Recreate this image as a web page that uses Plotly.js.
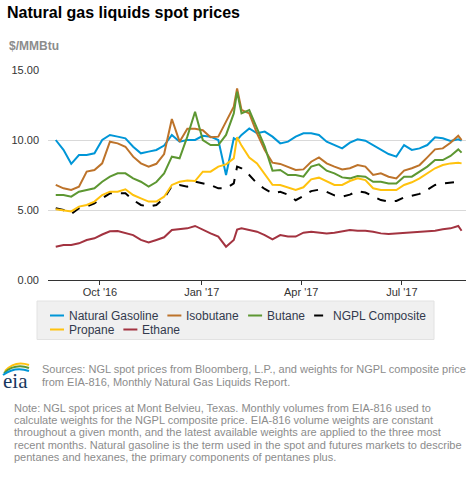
<!DOCTYPE html>
<html>
<head>
<meta charset="utf-8">
<script src="https://cdn.plot.ly/plotly-3.0.1.min.js"></script>
<style>
html,body{margin:0;padding:0;background:#fff;}
#chart{width:469px;height:482px;}
</style>
</head>
<body>
<div id="chart"></div>
<script>
// Weekly readings (plus the Feb 2017 spike and last observation)
const dates = [
 '2016-08-22','2016-08-29','2016-09-05','2016-09-12','2016-09-19','2016-09-26',
 '2016-10-03','2016-10-10','2016-10-17','2016-10-24','2016-10-31','2016-11-07',
 '2016-11-14','2016-11-21','2016-11-28','2016-12-05','2016-12-12','2016-12-19',
 '2016-12-26','2017-01-02','2017-01-09','2017-01-16','2017-01-23','2017-01-30',
 '2017-02-02','2017-02-06','2017-02-13','2017-02-20','2017-02-27','2017-03-06',
 '2017-03-13','2017-03-20','2017-03-27','2017-04-03','2017-04-10','2017-04-17',
 '2017-04-24','2017-05-01','2017-05-08','2017-05-15','2017-05-22','2017-05-29',
 '2017-06-05','2017-06-12','2017-06-19','2017-06-26','2017-07-03','2017-07-10',
 '2017-07-17','2017-07-24','2017-07-31','2017-08-07','2017-08-14','2017-08-21',
 '2017-08-24'
];
const naturalGasoline = [
 10.0,9.3,8.3,8.93,8.93,9.05,10.0,10.36,10.24,10.12,9.52,9.05,
 9.17,9.29,9.6,10.36,9.88,10.0,10.0,10.3,10.24,10.0,7.5,10.12,
 10.0,10.36,10.83,10.48,10.6,10.24,9.76,9.88,10.24,10.48,10.48,10.36,
 9.88,9.64,9.4,9.81,10.05,9.95,9.64,9.33,9.0,8.81,9.64,9.29,
 9.4,9.64,10.19,10.12,9.93,10.05,9.95
];
const isobutane = [
 6.79,6.55,6.43,6.67,7.74,7.86,8.33,9.88,9.76,9.52,8.81,8.33,
 8.1,8.3,9.0,11.5,9.88,10.8,10.8,10.7,10.2,10.24,11.31,12.38,
 13.69,12.14,11.9,10.48,9.29,8.38,8.29,8.1,7.86,7.9,8.45,8.76,
 8.33,8.1,7.9,7.98,8.21,8.1,7.5,7.62,7.38,7.26,7.81,7.98,
 8.21,8.76,9.33,9.4,9.8,10.3,10.0
];
const butane = [
 6.07,6.07,5.95,6.31,6.43,6.55,7.02,7.38,7.62,7.62,7.26,7.02,
 6.67,7.0,7.62,8.81,8.69,10.24,12.02,10.0,9.64,9.64,10.36,11.9,
 13.45,11.9,12.14,10.83,9.52,7.81,7.86,7.5,7.5,7.38,8.1,8.26,
 7.81,7.62,7.33,7.26,7.43,7.38,7.02,7.02,6.9,6.9,7.38,7.38,
 7.74,8.1,8.57,8.57,8.86,9.33,9.1
];
const ngplComposite = [
 5.12,5.0,4.71,5.12,5.24,5.48,5.83,6.19,6.19,6.19,5.71,5.36,
 5.24,5.36,5.83,6.71,6.79,6.67,7.02,6.9,6.79,6.55,6.55,6.9,
 8.1,7.98,7.5,6.9,6.5,6.2,6.3,6.1,5.7,6.0,6.35,6.45,
 6.3,6.05,5.95,6.1,6.35,6.25,5.95,5.71,5.6,5.65,5.9,6.0,
 6.15,6.45,6.79,6.9,6.98,7.02,7.0
];
const propane = [
 5.05,5.0,4.9,5.24,5.36,5.6,6.07,6.31,6.31,6.48,6.07,5.83,
 5.6,5.6,5.95,6.79,7.02,7.1,7.07,7.74,7.74,8.1,8.26,8.69,
 10.2,9.6,8.74,8.33,7.6,6.8,6.79,6.62,6.43,6.62,7.19,7.31,
 7.02,6.79,6.79,7.07,7.26,7.14,6.55,6.43,6.43,6.43,6.79,6.98,
 7.26,7.62,7.98,8.21,8.33,8.38,8.33
];
const ethane = [
 2.38,2.5,2.5,2.62,2.86,2.98,3.25,3.48,3.5,3.38,3.21,2.86,
 2.68,2.86,3.05,3.57,3.62,3.69,3.86,3.57,3.33,3.1,2.38,2.86,
 3.6,3.69,3.57,3.45,3.21,2.9,3.21,3.1,3.1,3.38,3.45,3.38,
 3.33,3.38,3.45,3.57,3.52,3.52,3.45,3.33,3.29,3.33,3.38,3.38,
 3.45,3.45,3.52,3.62,3.69,3.86,3.52
];
const seriesNames = ['Natural Gasoline','Isobutane','Butane','NGPL Composite','Propane','Ethane'];
const tickDates = ['2016-10-01','2017-01-01','2017-04-01','2017-07-01'];
const tickLabels = ["Oct '16","Jan '17","Apr '17","Jul '17"];
const yTicks = [0,5,10,15];

const seriesValues = [naturalGasoline,isobutane,butane,ngplComposite,propane,ethane];
const colors = ['#0096d7','#bd732a','#5d9732','#000000','#ffc20e','#a33340'];
const dashes = ['solid','solid','solid','dash','solid','solid'];

const FONT = 'Arial, "Liberation Sans", sans-serif';

const traces = seriesNames.map((name,i)=>({
  type:'scatter', mode:'lines', name:name,
  x:dates, y:seriesValues[i],
  line:{color:colors[i], width:2, dash:dashes[i]},
  hoverinfo:'skip', showlegend:false
}));

// layout helpers (pixel -> paper) for decorations only
const L=48, T=70, W=418, H=210;
const px = x => (x-L)/W;
const py = y => (T+H-y)/H;

const noteLines = [
 'Note: NGL spot prices at Mont Belvieu, Texas. Monthly volumes from EIA-816 used to',
 'calculate weights for the NGPL composite price. EIA-816 volume weights are constant',
 'throughout a given month, and the latest available weights are applied to the three most',
 'recent months. Natural gasoline is the term used in the spot and futures markets to describe',
 'pentanes and hexanes, the primary components of pentanes plus.'
];
const sourceLines = [
 'Sources: NGL spot prices from Bloomberg, L.P., and weights for NGPL composite price',
 'from EIA-816, Monthly Natural Gas Liquids Report.'
];
const noteY = [407.7,420,432.3,445,457.3];
const srcY = [369,382];

const annotations = [
 {xref:'paper',yref:'paper',x:px(7),y:py(46),xanchor:'left',yanchor:'middle',showarrow:false,
  text:'<b>$/MMBtu</b>',font:{family:FONT,size:12,color:'#8c8c8c'}},
 {xref:'paper',yref:'paper',x:px(15),y:py(381),xanchor:'center',yanchor:'middle',showarrow:false,
  text:'eia',font:{family:'"Liberation Serif", "DejaVu Serif", serif',size:21,color:'#17375e'}}
];
sourceLines.forEach((t,i)=>annotations.push({xref:'paper',yref:'paper',x:px(40),y:py(srcY[i]),
  xanchor:'left',yanchor:'middle',showarrow:false,text:t,font:{family:FONT,size:11,color:'#8c8c8c'}}));
noteLines.forEach((t,i)=>annotations.push({xref:'paper',yref:'paper',x:px(12),y:py(noteY[i]),
  xanchor:'left',yanchor:'middle',showarrow:false,text:t,font:{family:FONT,size:11,color:'#8c8c8c'}}));

function arc(x0,y0,xc,yc,x1,y1,color){
  return {type:'path',xref:'paper',yref:'paper',
    path:`M ${px(x0)},${py(y0)} Q ${px(xc)},${py(yc)} ${px(x1)},${py(y1)}`,
    line:{color:color,width:2}};
}
const shapes = [
  arc(5,371,15,360,29,365,'#ffc20e'),
  arc(4,373,15,363,29,368,'#5d9732'),
  arc(3,375,15,366,29,371,'#0096d7')
];

// Legend box (built from seriesNames / colors)
shapes.push({type:'rect',xref:'paper',yref:'paper',x0:px(37),x1:px(434),y0:py(301),y1:py(339.5),
  fillcolor:'#f0f0f0',line:{color:'#e2e2e2',width:1},layer:'below'});
const ctx = document.createElement('canvas').getContext('2d');
ctx.font = '12px Arial, "Liberation Sans", sans-serif';
const legendRows = [[0,1,2,3],[4,5]];
const rowY = [315.5,329.5];
legendRows.forEach((row,r)=>{
  let x = 50;
  row.forEach(i=>{
    shapes.push({type:'line',xref:'paper',yref:'paper',x0:px(x),x1:px(x+14),y0:py(rowY[r]),y1:py(rowY[r]),
      line:{color:colors[i],width:2,dash:i===3?'dash':'solid'}});
    annotations.push({xref:'paper',yref:'paper',x:px(x+17),y:py(rowY[r]),xanchor:'left',yanchor:'middle',
      showarrow:false,text:seriesNames[i],font:{family:FONT,size:12,color:'#333a4d'}});
    x = x + 17 + ctx.measureText(seriesNames[i]).width + 11;
  });
});

const layout = {
  width:469, height:482,
  margin:{l:L, r:469-L-W, t:T, b:482-T-H, pad:0},
  paper_bgcolor:'#fff', plot_bgcolor:'#fff',
  font:{family:FONT, color:'#333'},
  title:{text:'<b>Natural gas liquids spot prices</b>', font:{family:FONT,size:16,color:'#000'},
    xref:'container', yref:'container', x:7/469, xanchor:'left', y:1-12.5/482, yanchor:'middle'},
  showlegend:false,
  xaxis:{type:'date', range:['2016-08-15','2017-08-28'], tickvals:tickDates, ticktext:tickLabels,
    ticks:'outside', ticklen:4, tickcolor:'#333', showline:true, linecolor:'#333', linewidth:1,
    ticklabelstandoff:-2,
    showgrid:false, zeroline:false, tickfont:{family:FONT,size:11,color:'#333'}, fixedrange:true},
  yaxis:{range:[0,15], tickvals:yTicks, tickformat:'.2f', showgrid:true, gridcolor:'#d9d9d9',
    zeroline:false, showline:false, ticks:'', ticklabelstandoff:8,
    tickfont:{family:FONT,size:11,color:'#333'}, fixedrange:true},
  annotations:annotations,
  shapes:shapes
};

Plotly.newPlot('chart', traces, layout, {displayModeBar:false, staticPlot:true});
</script>
</body>
</html>
